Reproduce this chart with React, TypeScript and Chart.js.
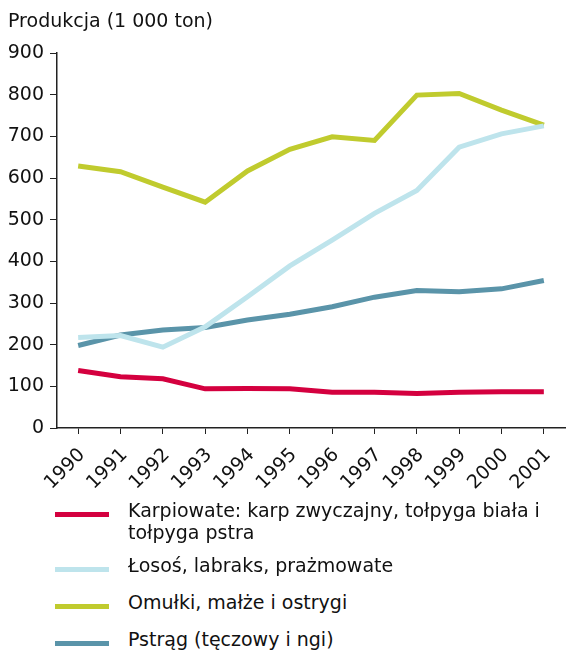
import React, { useEffect, useRef } from "react";
import { Chart, registerables } from "chart.js";

Chart.register(...registerables);

const years = ["1990", "1991", "1992", "1993", "1994", "1995", "1996", "1997", "1998", "1999", "2000", "2001"];
const karpiowate = [138, 123, 118, 94, 95, 94, 86, 86, 83, 86, 87, 87];
const losos = [217, 222, 194, 243, 315, 389, 451, 515, 570, 674, 706, 725];
const omulki = [629, 615, 578, 542, 617, 669, 699, 690, 799, 803, 763, 727];
const pstrag = [198, 223, 235, 241, 259, 273, 291, 314, 330, 327, 334, 354];

const seriesNames = [
  ["Karpiowate: karp zwyczajny, tołpyga biała i", "tołpyga pstra"],
  ["Łosoś, labraks, prażmowate"],
  ["Omułki, małże i ostrygi"],
  ["Pstrąg (tęczowy i ngi)"],
];
const seriesColors = ["#D4003F", "#BEE4EC", "#C0CB2E", "#5A94A9"];
const seriesData = [karpiowate, losos, omulki, pstrag];

const yTitle = "Produkcja (1 000 ton)";
const FONT = "'DejaVu Sans', Verdana, sans-serif";
const FS = 19;
const legendTops = [514, 569, 606, 643];

export default function App() {
  const ref = useRef<HTMLCanvasElement | null>(null);
  useEffect(() => {
    if (!ref.current) return;
    const chart = new Chart(ref.current, {
      type: "line",
      data: {
        labels: years,
        datasets: seriesData.map((d, i) => ({
          label: seriesNames[i].join(" "),
          data: d,
          borderColor: seriesColors[i],
          backgroundColor: seriesColors[i],
          borderWidth: 5,
          pointRadius: 0,
          tension: 0,
          fill: false,
        })),
      },
      options: {
        animation: false,
        responsive: false,
        maintainAspectRatio: false,
        layout: { padding: { left: 8, top: 53, right: 23, bottom: 0 } },
        plugins: { legend: { display: false }, tooltip: { enabled: false }, title: { display: false } },
        scales: {
          x: {
            type: "category",
            offset: true,
            afterFit: (s: any) => {
              s.height = 72;
            },
            grid: { display: true, drawOnChartArea: false, drawTicks: true, tickLength: 6, color: "#222", offset: false },
            border: { display: true, color: "#222", width: 1.5 },
            ticks: {
              color: "#111",
              font: { family: FONT, size: FS },
              maxRotation: 45,
              minRotation: 45,
              autoSkip: false,
              padding: 10,
              labelOffset: 4,
            },
          },
          y: {
            min: 0,
            max: 900,
            afterFit: (s: any) => {
              s.width = 49;
            },
            grid: { display: true, drawOnChartArea: false, drawTicks: true, tickLength: 7, color: "#222" },
            border: { display: true, color: "#222", width: 1.5 },
            ticks: { stepSize: 100, color: "#111", font: { family: FONT, size: FS }, padding: 6 },
          },
        },
      },
    });
    return () => chart.destroy();
  }, []);

  return (
    <div style={{ position: "fixed", left: 0, top: 0, width: 588, height: 652, background: "#fff", fontFamily: FONT, color: "#111" }}>
      <canvas ref={ref} width={588} height={500} style={{ position: "absolute", left: 0, top: 0, width: 588, height: 500 }} />
      <div style={{ position: "absolute", left: 8, top: 8, fontSize: FS, lineHeight: "24px", whiteSpace: "nowrap" }}>{yTitle}</div>
      {seriesNames.map((lines, i) => (
        <div key={i} style={{ position: "absolute", left: 0, top: legendTops[i] - 12, width: 588 }}>
          <div style={{ position: "absolute", left: 55, top: 10, width: 54, height: 5, background: seriesColors[i] }} />
          <div style={{ position: "absolute", left: 128, top: -3, fontSize: FS, lineHeight: "22px", whiteSpace: "nowrap" }}>
            {lines.map((l, j) => (
              <div key={j}>{l}</div>
            ))}
          </div>
        </div>
      ))}
    </div>
  );
}
